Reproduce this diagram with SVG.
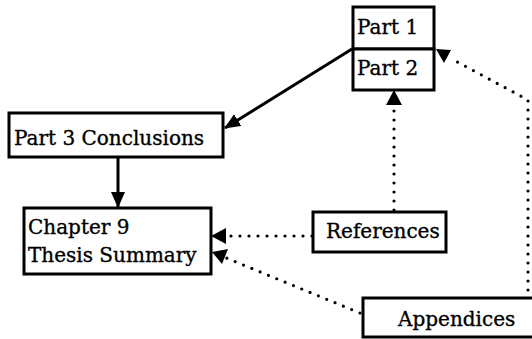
<svg xmlns="http://www.w3.org/2000/svg" width="532" height="339" viewBox="0 0 532 339">
  <style>
    .box { fill: #fff; stroke: #000; stroke-width: 3; }
    .lbl { font-family: "DejaVu Serif", "Liberation Serif", serif; font-size: 20px; fill: #000; stroke: #000; stroke-width: 0.35; }
    .solid { fill: none; stroke: #000; stroke-width: 3; }
    .dot { fill: none; stroke: #000; stroke-width: 3.2; stroke-linecap: round; stroke-dasharray: 0 9; }
  </style>
  <defs>
    <marker id="head" viewBox="0 0 16 14" refX="15" refY="7" markerWidth="16" markerHeight="14" markerUnits="userSpaceOnUse" orient="auto">
      <path d="M0,0 L16,7 L0,14 z" fill="#000"/>
    </marker>
  </defs>

  <g id="connectors">
    <line class="solid" x1="352" y1="49" x2="225" y2="128" marker-end="url(#head)"/>
    <line class="solid" x1="118" y1="157" x2="118" y2="207" marker-end="url(#head)"/>
    <line class="dot" x1="394" y1="210" x2="394" y2="104"/>
    <path d="M386,105 L394,90 L402,105 z" fill="#000"/>
    <line class="dot" x1="312" y1="236" x2="224" y2="236"/>
    <path d="M226,228 L211,236 L226,244 z" fill="#000"/>
    <line class="dot" x1="360" y1="313" x2="224" y2="257"/>
    <path d="M228,249 L212,252 L222,264 z" fill="#000"/>
    <polyline class="dot" points="528,290 528,100 450,58"/>
    <path d="M451,50 L436,49 L444,63 z" fill="#000"/>
  </g>

  <g id="part1">
    <rect class="box" x="353" y="7" width="81" height="42"/>
    <text class="lbl" x="357" y="34">Part 1</text>
  </g>
  <g id="part2">
    <rect class="box" x="353" y="49" width="81" height="41"/>
    <text class="lbl" x="357" y="75">Part 2</text>
  </g>
  <g id="part3">
    <rect class="box" x="9" y="113" width="214" height="44"/>
    <text class="lbl" x="14" y="145">Part 3 Conclusions</text>
  </g>
  <g id="chapter9">
    <rect class="box" x="24" y="208" width="187" height="66"/>
    <text class="lbl" x="28" y="234">Chapter 9</text>
    <text class="lbl" x="28" y="262">Thesis Summary</text>
  </g>
  <g id="references">
    <rect class="box" x="313" y="212" width="133" height="40"/>
    <text class="lbl" x="326" y="238">References</text>
  </g>
  <g id="appendices">
    <rect class="box" x="363" y="298" width="175" height="39"/>
    <text class="lbl" x="398" y="326">Appendices</text>
  </g>
</svg>
